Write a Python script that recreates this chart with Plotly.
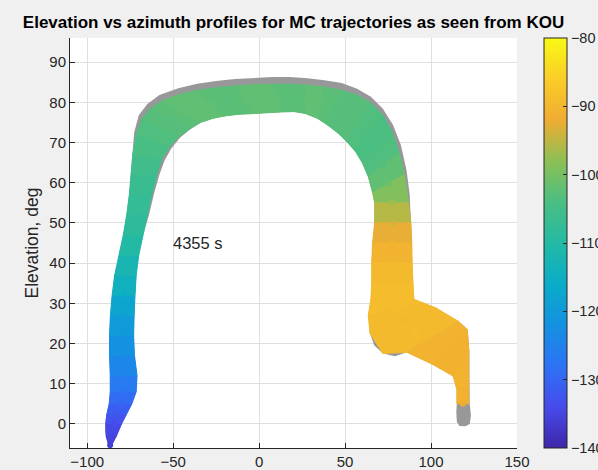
import numpy as np
import plotly.graph_objects as go
from plotly.colors import sample_colorscale

# ---- Data -----------------------------------------------------------------
# Cross-sections of the coloured band of MC trajectories (outer edge, inner edge)
cs_outer_az = [-87.5, -89.0, -89.2, -88.5, -87.2, -86.6, -86.6, -87.0, -87.0, -86.5,
               -85.5, -84.0, -81.5, -79.0, -77.0, -75.5, -74.5, -73.5, -71.5, -68.0,
               -63.0, -56.0, -46.0, -36.0, -25.0, -14.0, -3.0, 8.0, 18.0, 28.0,
               38.0, 48.0, 57.0, 65.0, 72.0, 77.5, 81.5, 84.5, 87.0, 88.3,
               88.8, 89.0, 89.5, 90.0, 96.0, 103.0, 110.0, 116.0, 121.0, 122.0,
               122.0, 122.0]
cs_outer_el = [-5.3, -3.0, 0.0, 2.5, 5.0, 8.0, 12.0, 17.0, 22.0, 27.0,
               32.0, 37.0, 42.0, 47.0, 52.0, 57.0, 62.0, 67.0, 72.0, 76.0,
               78.5, 80.5, 82.0, 83.0, 83.6, 84.1, 84.4, 84.5, 84.5, 84.3,
               83.8, 83.0, 81.8, 79.8, 76.8, 72.5, 67.5, 62.0, 55.0, 50.0,
               45.0, 40.0, 35.0, 31.0, 30.0, 28.8, 27.0, 25.5, 23.5, 18.0,
               11.0, 5.0]
cs_inner_az = [-85.8, -83.0, -80.0, -77.0, -74.0, -71.5, -71.0, -72.5, -73.0, -72.7,
               -72.2, -71.5, -70.0, -67.5, -65.0, -62.5, -59.5, -56.5, -52.0, -46.5,
               -40.0, -34.0, -27.0, -20.0, -12.0, -3.0, 5.0, 13.0, 20.0, 27.0,
               34.0, 40.0, 46.0, 51.0, 56.0, 60.0, 63.5, 66.0, 67.2, 67.2,
               66.0, 65.5, 65.5, 65.0, 63.5, 64.5, 72.0, 86.0, 101.0, 112.8,
               115.0, 115.0]
cs_inner_el = [-5.3, -3.0, 0.0, 2.5, 5.0, 8.0, 12.0, 17.0, 22.0, 27.0,
               32.0, 37.0, 42.0, 47.0, 52.0, 57.0, 62.0, 66.0, 69.0, 71.5,
               73.5, 75.0, 76.0, 76.6, 77.0, 77.2, 77.4, 77.6, 77.7, 77.2,
               76.0, 74.3, 72.3, 70.2, 67.8, 65.0, 61.5, 57.5, 55.0, 50.0,
               45.0, 40.0, 35.0, 31.0, 27.0, 22.5, 17.5, 17.8, 14.8, 11.9,
               8.6, 5.0]
cs_value = [-136, -135, -134, -132, -130, -128, -125, -123, -121, -119,
            -116, -113, -111, -109, -108, -107, -106, -105, -104, -103,
            -103, -102, -102, -102, -103, -102, -102, -102, -103, -102,
            -102, -103, -103, -103, -104, -104, -103, -101, -97, -94,
            -91, -90, -89, -89, -89, -90, -89, -90, -91, -91,
            -90, -92]

# Envelope of all trajectories (grey points underneath)
gray_az = [-86.6, -88.3, -89.5, -89.4, -88.5, -87.2, -86.6, -86.6, -87.0, -87.0,
           -86.5, -85.5, -84.0, -81.5, -79.0, -77.0, -75.5, -74.6, -73.9, -72.7,
           -70.0, -65.0, -58.0, -47.0, -36.0, -25.0, -14.0, -3.0, 8.0, 18.0,
           28.0, 38.0, 48.0, 57.0, 65.0, 72.0, 78.0, 82.5, 85.8, 87.6,
           88.5, 88.8, 89.0, 89.5, 90.0, 96.0, 103.0, 110.0, 116.0, 121.3,
           122.3, 122.3, 122.5, 123.2, 122.5, 120.0, 116.5, 115.0, 114.7, 115.0,
           115.0, 112.8, 101.0, 86.0, 79.0, 72.0, 67.0, 64.5, 63.5, 65.0,
           65.5, 65.5, 66.0, 67.2, 67.2, 66.0, 63.5, 60.0, 56.0, 51.0,
           46.0, 40.0, 34.0, 27.0, 20.0, 13.0, 5.0, -3.0, -12.0, -20.0,
           -27.0, -34.0, -40.0, -46.0, -51.0, -55.0, -58.0, -61.0, -64.0, -67.5,
           -70.0, -71.5, -72.2, -72.7, -73.0, -72.5, -71.0, -71.5, -74.0, -77.0,
           -80.0, -83.0, -85.5]
gray_el = [-5.8, -4.5, -2.0, 1.0, 3.0, 5.0, 8.0, 12.0, 17.0, 22.0,
           27.0, 32.0, 37.0, 42.0, 47.0, 52.0, 57.0, 62.0, 67.0, 72.5,
           76.8, 79.6, 81.8, 83.5, 84.6, 85.3, 85.8, 86.1, 86.3, 86.3,
           86.0, 85.5, 84.8, 83.4, 81.4, 78.4, 74.3, 69.3, 63.0, 57.0,
           50.0, 45.0, 40.0, 35.0, 31.0, 30.0, 28.8, 27.0, 25.5, 23.5,
           18.0, 11.0, 5.0, 2.0, 0.0, -0.6, -0.5, 0.5, 3.0, 5.0,
           8.6, 11.9, 14.8, 17.8, 16.8, 17.5, 19.5, 22.5, 27.0, 31.0,
           35.0, 40.0, 45.0, 50.0, 55.0, 57.5, 61.5, 65.0, 67.8, 70.2,
           72.3, 74.3, 76.0, 77.2, 77.7, 77.6, 77.4, 77.2, 77.0, 76.6,
           76.0, 75.0, 73.3, 71.2, 68.6, 65.5, 62.0, 57.5, 52.0, 47.0,
           42.0, 37.0, 32.0, 27.0, 22.0, 17.0, 12.0, 8.0, 5.0, 2.5,
           0.0, -3.0, -5.3]

x_ticks = [-100, -50, 0, 50, 100, 150]
y_ticks = [0, 10, 20, 30, 40, 50, 60, 70, 80, 90]
c_ticks = [-140, -130, -120, -110, -100, -90, -80]
c_min, c_max = -140, -80

parula = [[0.00, 'rgb(62,38,168)'], [0.10, 'rgb(71,75,235)'],
          [0.20, 'rgb(45,115,245)'], [0.30, 'rgb(20,145,225)'],
          [0.40, 'rgb(10,172,200)'], [0.50, 'rgb(35,186,165)'],
          [0.60, 'rgb(75,190,130)'], [0.70, 'rgb(140,192,85)'],
          [0.80, 'rgb(240,172,50)'], [0.90, 'rgb(250,205,40)'],
          [1.00, 'rgb(248,250,20)']]

INK = '#262626'
FONT = 'Liberation Sans, Arial, sans-serif'
fig = go.Figure()

# grey envelope
fig.add_trace(go.Scatter(x=gray_az, y=gray_el, mode='lines', fill='toself',
                         fillcolor='rgb(152,152,155)', line=dict(width=0, color='rgb(152,152,155)'),
                         hoverinfo='skip', showlegend=False))

# coloured band, one strip per pair of cross-sections
oa, oe = np.array(cs_outer_az), np.array(cs_outer_el)
ia, ie = np.array(cs_inner_az), np.array(cs_inner_el)
vals = np.array(cs_value, dtype=float)
for i in range(len(vals) - 1):
    v = 0.5 * (vals[i] + vals[i + 1])
    col = sample_colorscale(parula, [(v - c_min) / (c_max - c_min)])[0]
    fig.add_trace(go.Scatter(
        x=[oa[i], oa[i + 1], ia[i + 1], ia[i], oa[i]],
        y=[oe[i], oe[i + 1], ie[i + 1], ie[i], oe[i]],
        mode='lines', fill='toself', fillcolor=col,
        line=dict(width=1, color=col), hoverinfo='skip', showlegend=False))

# points along the band carrying the colour scale
fig.add_trace(go.Scatter(
    x=0.5 * (oa + ia), y=0.5 * (oe + ie), mode='markers',
    marker=dict(size=6, color=vals, colorscale=parula, cmin=c_min, cmax=c_max,
                showscale=True,
                colorbar=dict(x=1.0604, xanchor='left', xpad=0, ypad=0,
                              y=0.5, yanchor='middle', lenmode='fraction', len=1,
                              thickness=23, outlinecolor=INK, outlinewidth=1,
                              tickvals=c_ticks, ticks='inside', ticklen=4,
                              tickcolor=INK, tickfont=dict(size=14.5, color=INK, family=FONT))),
    hoverinfo='skip', showlegend=False))

fig.add_annotation(x=-50, y=45, text='4355 s', showarrow=False, xanchor='left',
                   yanchor='middle', xshift=-2,
                   font=dict(size=16.5, color=INK, family=FONT))

axis_common = dict(showgrid=True, gridcolor='rgb(223,223,223)', gridwidth=1,
                   zeroline=False, showline=True, linecolor=INK, linewidth=1,
                   ticks='inside', ticklen=5, tickcolor=INK, mirror=False,
                   automargin=False, tickfont=dict(size=15, color=INK, family=FONT))
fig.update_layout(
    width=598, height=470,
    margin=dict(l=70, r=81, t=38, b=22, autoexpand=False),
    paper_bgcolor='rgb(240,240,240)', plot_bgcolor='white',
    font=dict(family=FONT, color=INK),
    title=dict(text='<b>Elevation vs azimuth profiles for MC trajectories as seen from KOU</b>',
               xref='paper', x=0.5, xanchor='center', yref='container',
               y=1 - 22 / 470, yanchor='middle',
               font=dict(size=17, color='black', family=FONT)),
    xaxis=dict(range=[-110, 150], tickvals=x_ticks, **axis_common),
    yaxis=dict(range=[-6, 96], tickvals=y_ticks,
               title=dict(text='Elevation, deg', font=dict(size=17.5, color=INK, family=FONT),
                          standoff=6),
               **axis_common),
)

fig.write_html("out.html")
